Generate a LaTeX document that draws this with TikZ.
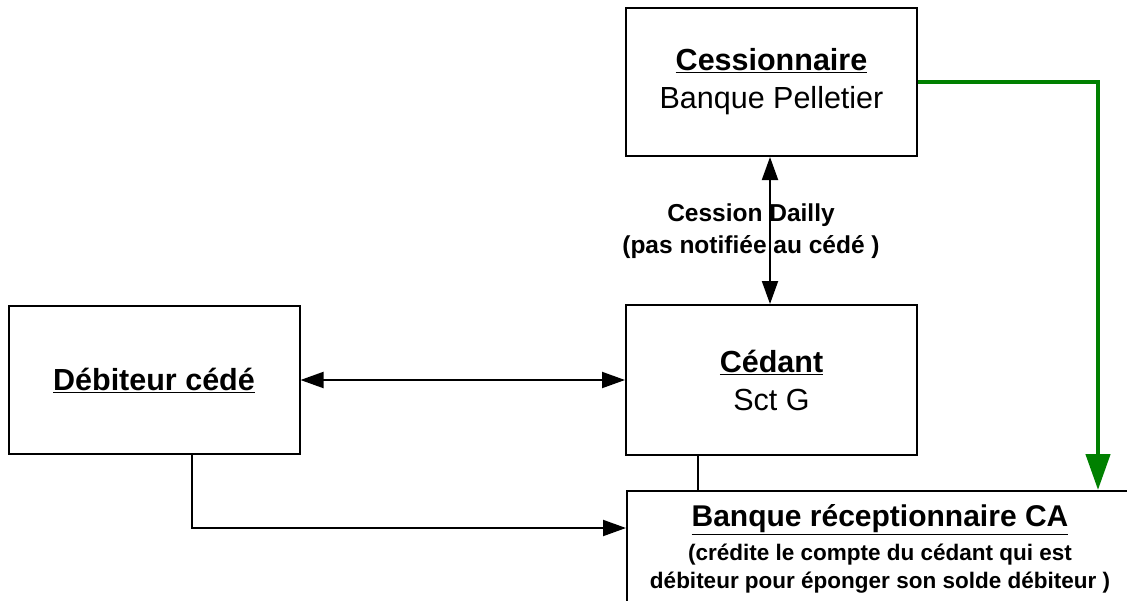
\documentclass[tikz,border=0pt]{standalone}
\usepackage{fontspec}
\setmainfont{Liberation Sans}
\usetikzlibrary{arrows.meta}
\definecolor{arrowgreen}{RGB}{0,128,0}
\tikzset{
  box/.style={draw=black, line width=2pt, fill=white, align=center, inner sep=0pt},
  title/.style={font=\fontsize{30.5}{38}\selectfont},
  link/.style={draw=black, line width=2pt},
  tip/.style={-{Triangle[length=23pt,width=16pt]}},
  tips/.style={{Triangle[length=23pt,width=16pt]}-{Triangle[length=23pt,width=16pt]}},
  greenlink/.style={draw=arrowgreen, line width=4.5pt, -{Triangle[length=36pt,width=24pt]}},
}
\begin{document}
\begin{tikzpicture}[x=1pt,y=-1pt]
\useasboundingbox (0,0) rectangle (1127,600);
\clip (0,0) rectangle (1127,600);

\node[box, title, minimum width=291pt, minimum height=148pt] (cess) at (771.5,82)
  {\textbf{\underline{Cessionnaire}}\\Banque Pelletier};
\node[box, title, minimum width=291pt, minimum height=150pt] (ced) at (771.5,380)
  {\textbf{\underline{Cédant}}\\Sct G};
\node[box, title, minimum width=291pt, minimum height=148pt] (deb) at (154,380)
  {\textbf{\underline{Débiteur cédé}}};
\node[box, minimum width=506pt, minimum height=116pt, font=\fontsize{22.5}{28}\selectfont\bfseries] (banque) at (880,549)
  {{\fontsize{30}{37}\selectfont\underline{Banque réceptionnaire CA}}\\[6pt]
   (crédite le compte du cédant qui est\\
   débiteur pour éponger son solde débiteur )};

\draw[link, tips] ([xshift=-1.5pt]cess.south) -- ([xshift=-1.5pt]ced.north);
\node[align=center, font=\fontsize{24.5}{32}\selectfont\bfseries, inner sep=0pt] (lbl) at (751,231)
  {Cession Dailly\\(pas notifiée au cédé )};

\draw[link, tips] (deb.east) -- (ced.west);
\draw[link, tip] ([xshift=38pt]deb.south) |- ([yshift=21pt]banque.west);
\draw[link] ([xshift=-73.5pt]ced.south) -- ([xshift=-73.5pt]ced.south |- banque.north);
\draw[greenlink] (cess.east) -| ([xshift=218pt]banque.north);
\end{tikzpicture}
\end{document}
